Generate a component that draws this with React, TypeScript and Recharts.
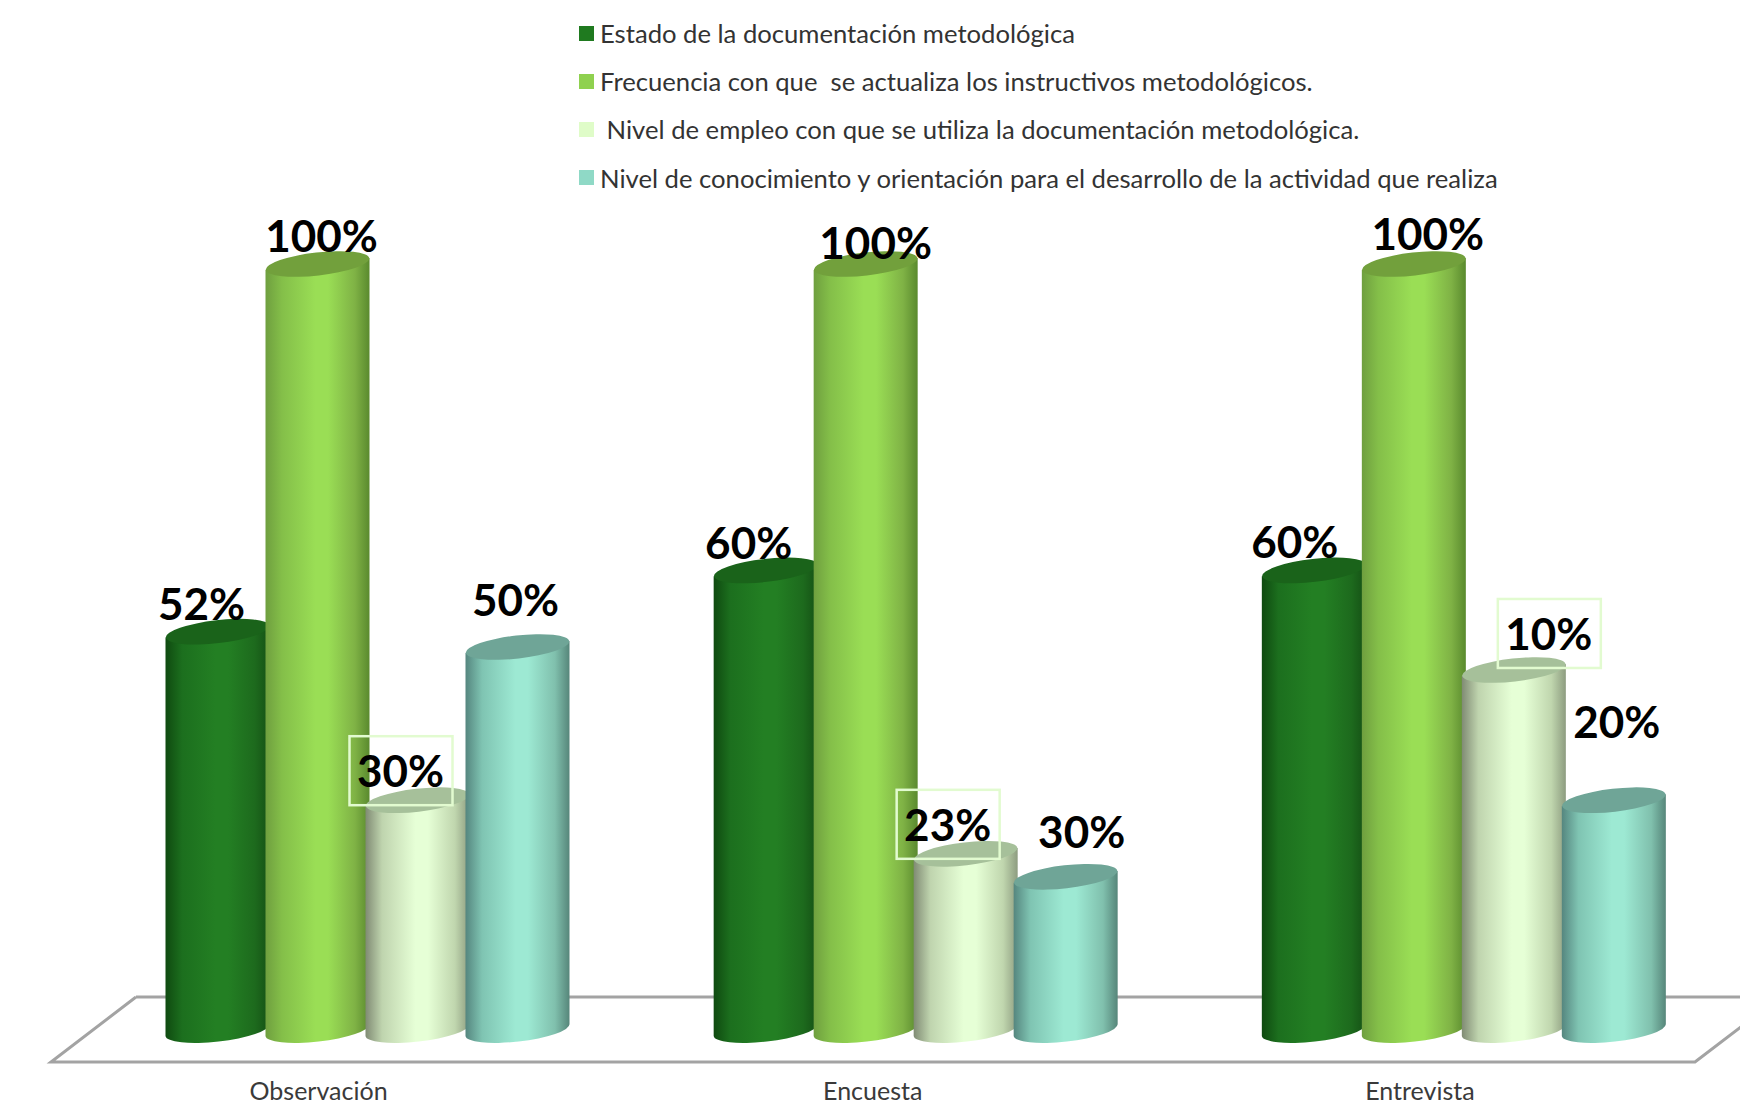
import { BarChart, Bar, XAxis, YAxis, Legend, LabelList } from 'recharts';

const CATEGORIES = ['Observación', 'Encuesta', 'Entrevista'];

const SERIES_NAMES = [
  'Estado de la documentación metodológica',
  'Frecuencia con que  se actualiza los instructivos metodológicos.',
  ' Nivel de empleo con que se utiliza la documentación metodológica.',
  'Nivel de conocimiento y orientación para el desarrollo de la actividad que realiza',
];

// bar heights as drawn, in percent
const ESTADO = [52, 60, 60];
const FRECUENCIA = [100, 100, 100];
const EMPLEO = [30, 23, 47];
const CONOCIMIENTO = [50, 20, 30];

// the printed labels do not always agree with the bar heights in the source
const ESTADO_LABELS = ['52%', '60%', '60%'];
const FRECUENCIA_LABELS = ['100%', '100%', '100%'];
const EMPLEO_LABELS = ['30%', '23%', '10%'];
const CONOCIMIENTO_LABELS = ['50%', '30%', '20%'];

const chartData = CATEGORIES.map((name, i) => ({
  name,
  estado: ESTADO[i],
  frecuencia: FRECUENCIA[i],
  empleo: EMPLEO[i],
  conocimiento: CONOCIMIENTO[i],
  estadoLabel: ESTADO_LABELS[i],
  frecuenciaLabel: FRECUENCIA_LABELS[i],
  empleoLabel: EMPLEO_LABELS[i],
  conocimientoLabel: CONOCIMIENTO_LABELS[i],
}));

const FONT = 'Lato, "Open Sans", sans-serif';

const STYLES = [
  { key: 'estado', flat: '#1f7a1f', top: '#1a631a', stops: ['#0f4a10', '#1c6f1e', '#237f23', '#237f23', '#1d6a1d', '#155015'] },
  { key: 'frecuencia', flat: '#8fd14f', top: '#72a03c', stops: ['#6f9f3f', '#84bf49', '#9ade55', '#9ade55', '#7fb245', '#5a8a2e'] },
  { key: 'empleo', flat: '#dffcc8', top: '#a6c09a', stops: ['#808b74', '#bfd4ae', '#e6ffd6', '#e6ffd6', '#c0d6ae', '#8d9c80'] },
  { key: 'conocimiento', flat: '#8fd9c6', top: '#6fa597', stops: ['#55867f', '#7fc4b2', '#9de9d3', '#9de9d3', '#80c0ad', '#56867a'] },
];
const STOP_OFFSETS = ['0%', '16%', '48%', '60%', '86%', '100%'];

// label nudges from the top-centre of each bar, per series then per category
const LABEL_OFFSETS = [
  [[-16, -29], [-17, -28], [-19, -29]],
  [[4, -29], [10, -22], [14, -31]],
  [[-17, -30], [-18, -30], [35, -37]],
  [[-2, -48], [16, -46], [3, -79]],
];
const BOX_SHIFT = [1, 1, 1];
const BOXED_SERIES = 2;
const TICK_SHIFT = [-49, -43, -44];

const TILT = 6.5;
const TOP_RY = 11.5;

function makeCylinder(series: number) {
  return function Cylinder(props: any) {
    const { x, y, width, height } = props;
    const w = width + 4;
    const left = x - 2;
    const right = left + w;
    const rx = w / 2;
    const lift = rx * Math.sin((TILT * Math.PI) / 180);
    const base = y + height;
    const body = `M${left},${y + lift} L${left},${base + lift} A${rx},${TOP_RY} ${-TILT} 0 0 ${right},${base - lift} L${right},${y - lift} Z`;
    return (
      <g>
        <path d={body} fill={`url(#cyl${series})`} />
        <ellipse
          cx={left + rx}
          cy={y}
          rx={rx}
          ry={TOP_RY}
          fill={STYLES[series].top}
          transform={`rotate(${-TILT} ${left + rx} ${y})`}
        />
      </g>
    );
  };
}

function makeLabel(series: number) {
  return function BarLabel(props: any) {
    const box = props.viewBox ?? props;
    const i = props.index;
    const [dx, dy] = LABEL_OFFSETS[series][i];
    const cx = box.x + box.width / 2 + dx;
    const cy = Math.min(box.y, box.y + box.height) + dy;
    return (
      <g>
        {series === BOXED_SERIES && (
          <rect x={cx - 51} y={cy - 35 + BOX_SHIFT[i]} width={103} height={69} fill="none" stroke="#e2fbd0" strokeWidth={2.5} />
        )}
        <text
          x={cx}
          y={cy}
          textAnchor="middle"
          dominantBaseline="central"
          fontFamily={FONT}
          fontWeight={700}
          fontSize={44}
          fill="#000000"
        >
          {props.value}
        </text>
      </g>
    );
  };
}

function CategoryTick({ x, y, payload, index }: any) {
  return (
    <text
      x={x + TICK_SHIFT[index]}
      y={y + 62}
      textAnchor="middle"
      fontFamily={FONT}
      fontSize={25}
      fill="#3a3a3a"
    >
      {payload.value}
    </text>
  );
}

function LegendList({ payload }: any) {
  return (
    <div>
      {(payload ?? []).map((entry: any) => (
        <div key={entry.value} style={{ display: 'flex', alignItems: 'center', height: 48.2 }}>
          <span style={{ width: 15, height: 15, background: entry.color, marginRight: 6, flex: 'none' }} />
          <span style={{ fontFamily: FONT, fontSize: 25.65, color: '#333333', whiteSpace: 'pre' }}>{entry.value}</span>
        </div>
      ))}
    </div>
  );
}

export default function App() {
  return (
    <div style={{ position: 'absolute', left: 0, top: 0, width: 1740, height: 1105, background: '#fff', overflow: 'hidden' }}>
      <BarChart
        width={1740}
        height={1105}
        data={chartData}
        margin={{ top: 264, right: 2, left: 93.5, bottom: 0 }}
        barSize={100}
        barGap={0}
      >
        <defs>
          {STYLES.map((s, i) => (
            <linearGradient key={s.key} id={`cyl${i}`} x1="0" y1="0" x2="1" y2="0">
              {s.stops.map((c, j) => (
                <stop key={j} offset={STOP_OFFSETS[j]} stopColor={c} />
              ))}
            </linearGradient>
          ))}
        </defs>

        {/* floor of the 3D plot */}
        <path
          d="M136,997 L1790,997 M136,997 L51,1062 L1695,1062 L1780,997"
          fill="none"
          stroke="#a3a3a3"
          strokeWidth={3}
        />

        <XAxis dataKey="name" axisLine={false} tickLine={false} height={75} tick={<CategoryTick />} interval={0} />
        <YAxis hide domain={[0, 100]} />

        <Legend
          layout="vertical"
          align="center"
          verticalAlign="middle"
          itemSorter={null}
          content={<LegendList />}
          wrapperStyle={{ left: 579, top: 9, width: 1100, height: 194 }}
        />

        {STYLES.map((s, i) => (
          <Bar
            key={s.key}
            dataKey={s.key}
            name={SERIES_NAMES[i]}
            fill={s.flat}
            shape={makeCylinder(i)}
            isAnimationActive={false}
          >
            <LabelList dataKey={`${s.key}Label`} content={makeLabel(i)} />
          </Bar>
        ))}
      </BarChart>
    </div>
  );
}
